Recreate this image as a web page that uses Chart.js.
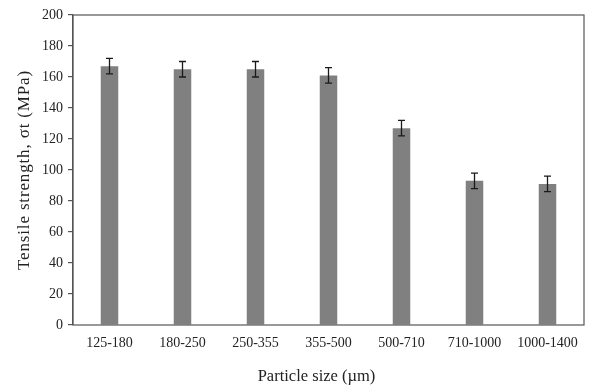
<!DOCTYPE html>
<html>
<head>
<meta charset="utf-8">
<script src="https://cdn.jsdelivr.net/npm/chart.js@4.4.0/dist/chart.umd.min.js"></script>
<style>
html,body{margin:0;padding:0;background:#fff;}
#wrap{width:600px;height:391px;}
</style>
</head>
<body>
<div id="wrap"><canvas id="c" width="600" height="391"></canvas></div>
<script>
const categories = ['125-180','180-250','250-355','355-500','500-710','710-1000','1000-1400'];
const strength = [167, 165, 165, 161, 127, 93, 91];
const errors = [5, 5, 5, 5, 5, 5, 5];
const yTicks = [0,20,40,60,80,100,120,140,160,180,200];

const errorBarPlugin = {
  id: 'errorBars',
  afterDatasetsDraw(chart) {
    const ctx = chart.ctx;
    const meta = chart.getDatasetMeta(0);
    const y = chart.scales.y;
    ctx.save();
    ctx.strokeStyle = '#1a1a1a';
    ctx.lineWidth = 1.3;
    meta.data.forEach((bar, i) => {
      const x = bar.x;
      const top = y.getPixelForValue(strength[i] + errors[i]);
      const bot = y.getPixelForValue(strength[i] - errors[i]);
      const cap = 3.5;
      ctx.beginPath();
      ctx.moveTo(x, top); ctx.lineTo(x, bot);
      ctx.moveTo(x - cap, top); ctx.lineTo(x + cap, top);
      ctx.moveTo(x - cap, bot); ctx.lineTo(x + cap, bot);
      ctx.stroke();
    });
    ctx.restore();
  }
};

const framePlugin = {
  id: 'frame',
  afterDraw(chart) {
    const a = chart.chartArea;
    const ctx = chart.ctx;
    ctx.save();
    ctx.strokeStyle = '#555';
    ctx.lineWidth = 1.2;
    ctx.strokeRect(a.left, a.top, a.right - a.left, a.bottom - a.top);
    ctx.restore();
  }
};

new Chart(document.getElementById('c'), {
  type: 'bar',
  data: {
    labels: categories,
    datasets: [{
      data: strength,
      backgroundColor: '#808080',
      borderWidth: 0,
      categoryPercentage: 1.0,
      barPercentage: 0.24
    }]
  },
  options: {
    responsive: false,
    animation: false,
    layout: { padding: { left: 0, right: 16, top: 15, bottom: 0 } },
    plugins: { legend: { display: false }, tooltip: { enabled: false } },
    scales: {
      x: {
        grid: { display: false, drawTicks: false },
        border: { display: false },
        ticks: { color: '#222', font: { family: 'Liberation Serif', size: 14 }, padding: 10, maxRotation: 0 },
        title: { display: true, text: 'Particle size (µm)', color: '#222', font: { family: 'Liberation Serif', size: 16.5 }, padding: { top: 0, bottom: 4 } },
        afterFit(s) {
          s.height = 66;
          if (!s._shiftedTitle) {
            const orig = s.drawTitle;
            s.drawTitle = function () {
              this.ctx.save();
              this.ctx.translate(-12, 0);
              orig.call(this);
              this.ctx.restore();
            };
            s._shiftedTitle = true;
          }
        }
      },
      y: {
        min: 0, max: 200,
        afterBuildTicks(s) { s.ticks = yTicks.map(v => ({ value: v })); },
        grid: { drawOnChartArea: false, drawTicks: true, tickLength: 5, color: '#555', lineWidth: 1.2 },
        border: { display: true, color: '#555', width: 1.2 },
        ticks: { color: '#222', font: { family: 'Liberation Serif', size: 14 }, padding: 5 },
        title: { display: true, text: 'Tensile strength, σt (MPa)', color: '#222', font: { family: 'Liberation Serif', size: 17 }, padding: { top: 14, bottom: 0 } },
        afterFit(s) {
          s.width = 73;
          if (!s._spacedTitle) {
            const orig = s.drawTitle;
            s.drawTitle = function () {
              this.ctx.save();
              this.ctx.letterSpacing = '0.85px';
              orig.call(this);
              this.ctx.restore();
            };
            s._spacedTitle = true;
          }
        }
      }
    }
  },
  plugins: [errorBarPlugin, framePlugin]
});
</script>
</body>
</html>
